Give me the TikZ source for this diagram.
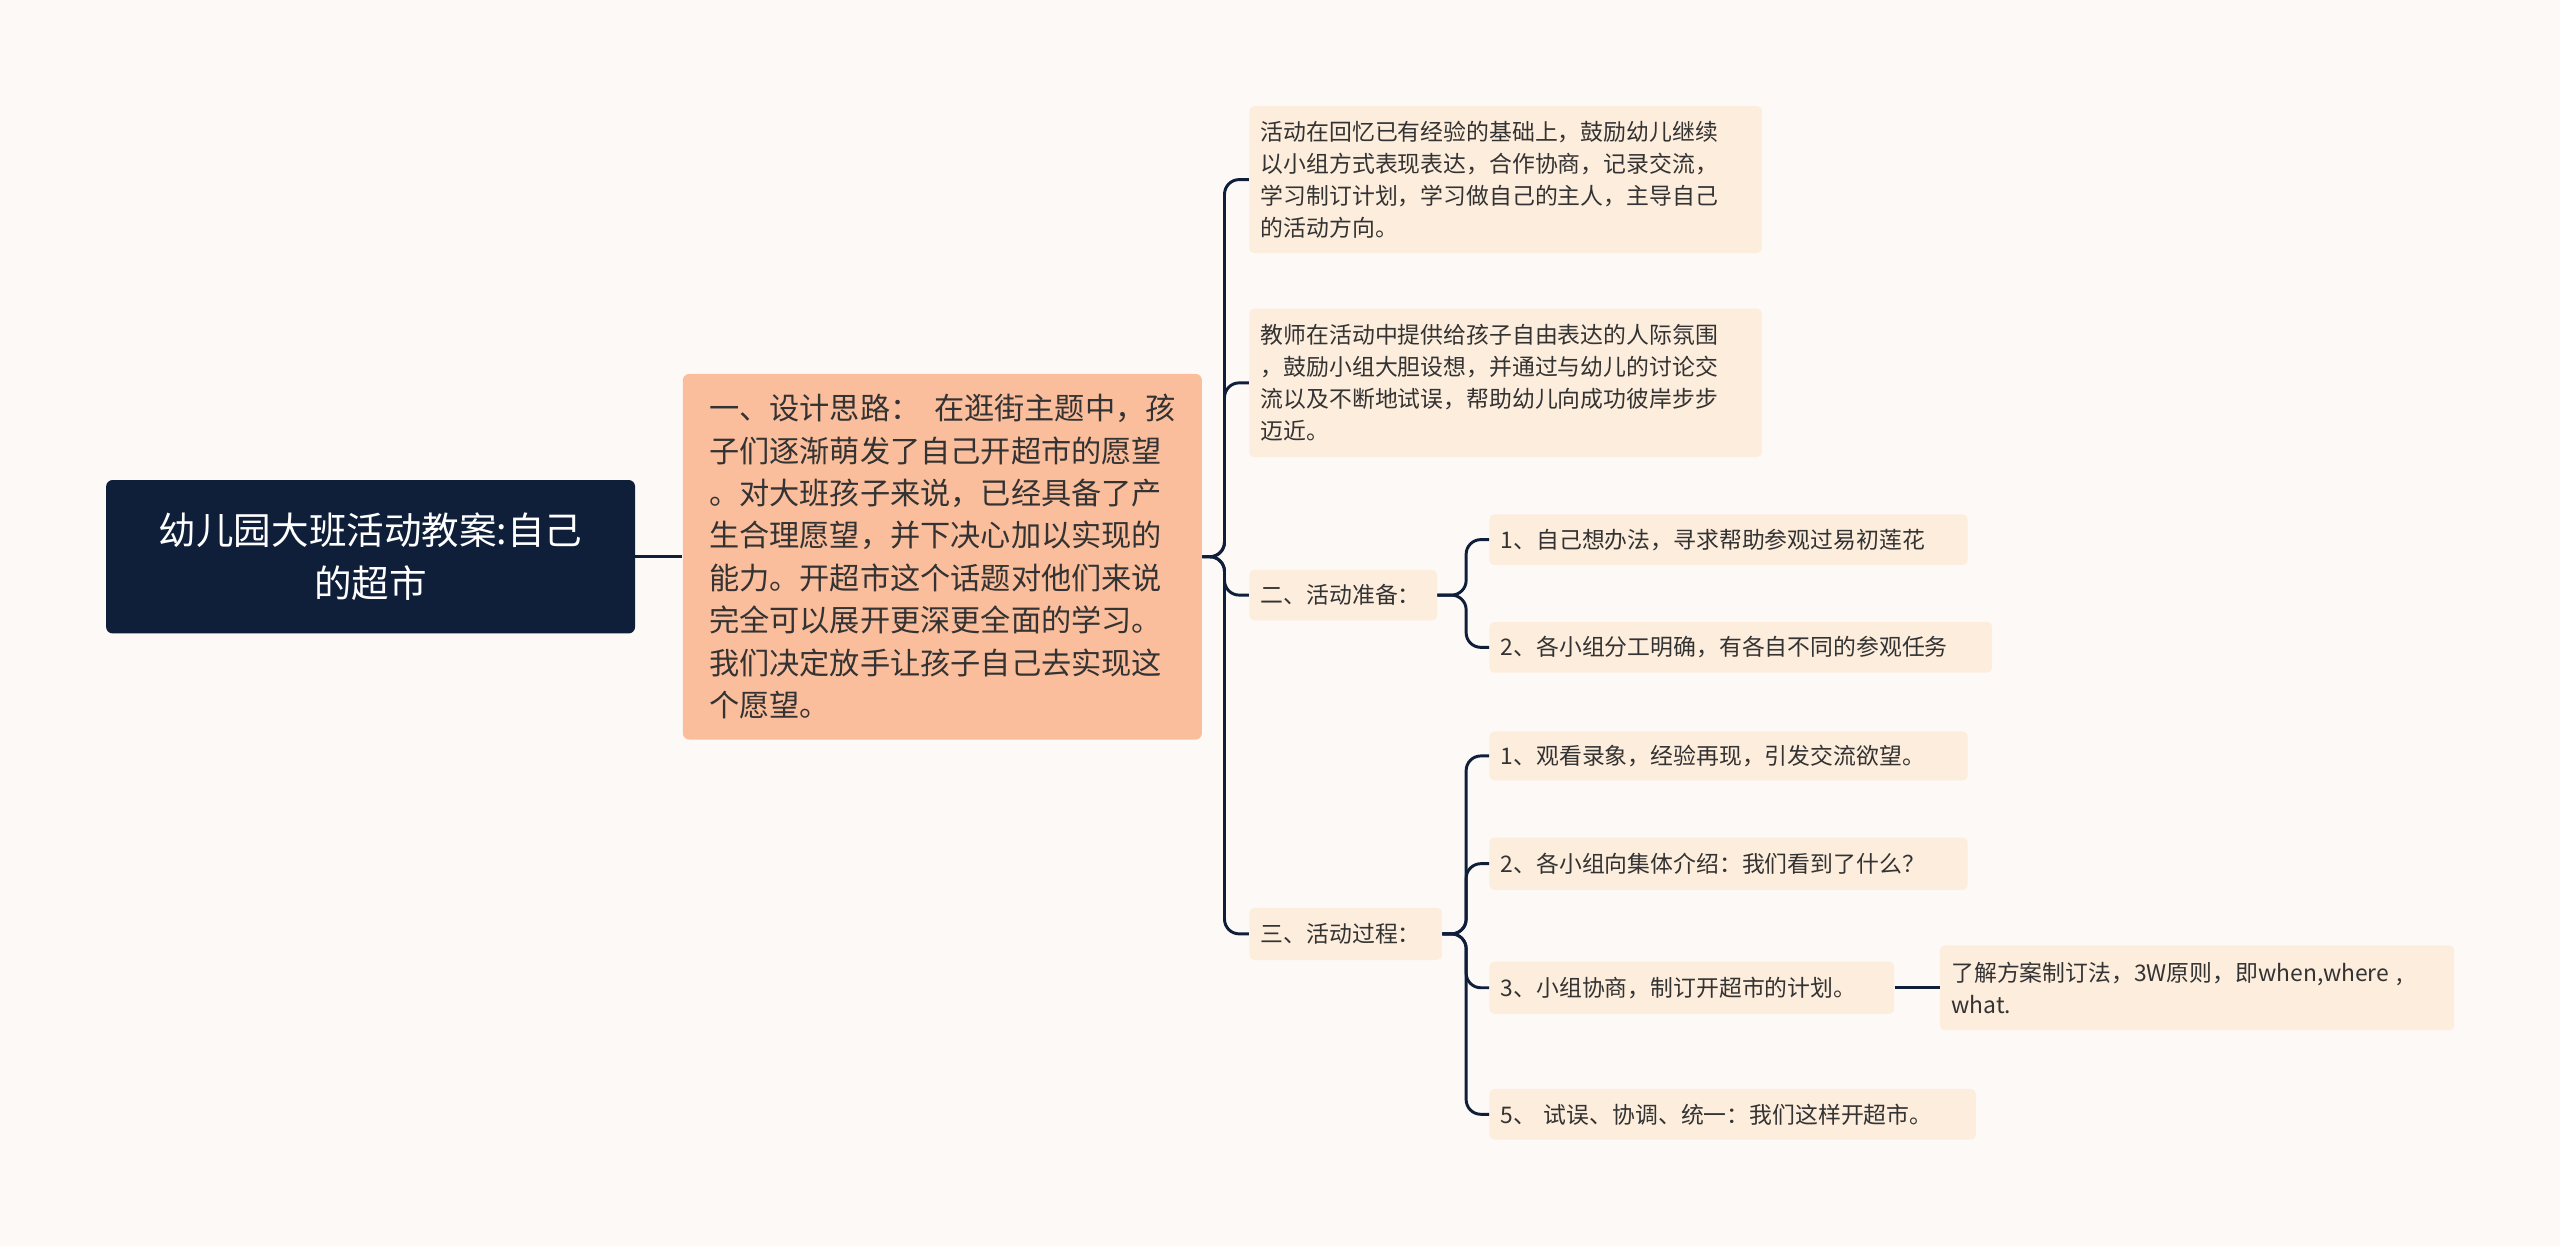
\documentclass[tikz,border=0pt]{standalone}
\usepackage{fontspec}
\setmainfont{Noto Sans CJK SC}
\definecolor{bg}{HTML}{FDF9F7}
\definecolor{navy}{HTML}{0F1F3A}
\definecolor{salmon}{HTML}{FBBE9C}
\definecolor{peach}{HTML}{FDEDDC}
\definecolor{txt}{HTML}{333333}
\tikzset{
 lf/.style 2 args={fill=peach,rounded corners=3pt,anchor=west,align=left,inner xsep=7pt,inner ysep=0pt,text width=#1-14pt,minimum height=#2,font=\fontsize{14}{19.5}\selectfont,text=txt},
 cn/.style={draw=navy,line width=1.8pt,rounded corners=9pt},
}
\begin{document}
\begin{tikzpicture}[x=1pt,y=-1pt]
\fill[bg] (0,0) rectangle (1568,763);
\useasboundingbox (0,0) rectangle (1568,763);
\node[fill=navy,rounded corners=4pt,minimum width=324,minimum height=94,text=white,align=center,font=\fontsize{23}{32}\selectfont] (root) at (227,341) {幼儿园大班活动教案:自己\\的超市};
\node[fill=salmon,rounded corners=4pt,minimum width=318,minimum height=224,anchor=west,align=left,text=txt,inner xsep=9pt,font=\fontsize{18.5}{26}\selectfont] (l1) at (418,341) {一、设计思路：\ \ 在逛街主题中，孩\\子们逐渐萌发了自己开超市的愿望\\。对大班孩子来说，已经具备了产\\生合理愿望，并下决心加以实现的\\能力。开超市这个话题对他们来说\\完全可以展开更深更全面的学习。\\我们决定放手让孩子自己去实现这\\个愿望。};
\node[lf={314pt}{90pt}] (a) at (765,110) {活动在回忆已有经验的基础上，鼓励幼儿继续\\以小组方式表现表达，合作协商，记录交流，\\学习制订计划，学习做自己的主人，主导自己\\的活动方向。};
\node[lf={314pt}{91pt}] (b) at (765,234.5) {教师在活动中提供给孩子自由表达的人际氛围\\，鼓励小组大胆设想，并通过与幼儿的讨论交\\流以及不断地试误，帮助幼儿向成功彼岸步步\\迈近。};
\node[lf={115pt}{31pt}] (c) at (765,364.5) {二、活动准备：};
\node[lf={118pt}{32pt}] (d) at (765,572) {三、活动过程：};
\node[lf={293pt}{31pt}] (c1) at (912,330.5) {1、自己想办法，寻求帮助参观过易初莲花};
\node[lf={308pt}{31pt}] (c2) at (912,396.5) {2、各小组分工明确，有各自不同的参观任务};
\node[lf={293pt}{30pt}] (d1) at (912,463) {1、观看录象，经验再现，引发交流欲望。};
\node[lf={293pt}{32pt}] (d2) at (912,529) {2、各小组向集体介绍：我们看到了什么？};
\node[lf={248pt}{32pt}] (d3) at (912,605) {3、小组协商，制订开超市的计划。};
\node[lf={298pt}{31pt}] (d4) at (912,682.5) {5、 试误、协调、统一：我们这样开超市。};
\node[lf={315pt}{52pt}] (e) at (1188,605) {了解方案制订法，3W原则，即when,where ,\\what.};
\draw[cn] (root.east) -- (l1.west);
\foreach \t in {a,b,c,d} \draw[cn] (l1.east) -- (750,341) |- (\t.west);
\foreach \t in {c1,c2} \draw[cn] (c.east) -- (898,364.5) |- (\t.west);
\foreach \t in {d1,d2,d3,d4} \draw[cn] (d.east) -- (898,572) |- (\t.west);
\draw[cn] (d3.east) -- (e.west);
\end{tikzpicture}
\end{document}
